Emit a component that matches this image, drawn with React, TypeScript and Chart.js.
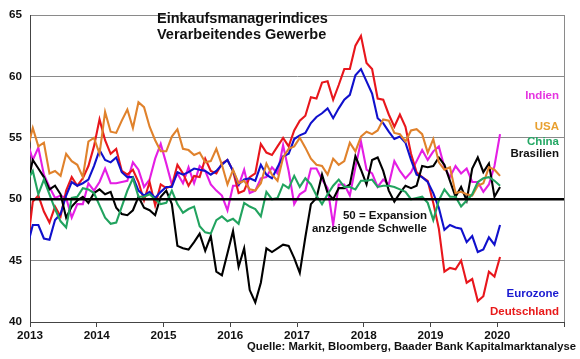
import React, { useEffect, useRef } from 'react';
import { Chart, registerables } from 'chart.js';

Chart.register(...registerables);

// Monthly PMI values, first point = Dec 2012, last point = Jan 2020
const yearTicks = [2013, 2014, 2015, 2016, 2017, 2018, 2019, 2020, 2021];

const china = [51.5,
  52.3, 50.4, 51.6, 50.4, 49.2, 48.2, 47.7, 50.1, 50.2, 50.9, 50.8, 50.5,
  49.5, 48.5, 48.0, 48.1, 49.4, 50.7, 51.7, 50.2, 50.2, 50.4, 50.0, 49.6,
  49.7, 50.7, 49.6, 48.9, 49.2, 49.4, 47.8, 47.3, 47.2, 48.3, 48.6, 48.2,
  48.4, 48.0, 49.7, 49.4, 49.2, 48.6, 50.6, 50.0, 50.1, 51.2, 50.9, 51.9,
  51.0, 51.7, 51.2, 50.3, 49.6, 50.4, 51.1, 51.6, 51.0, 51.0, 50.8, 51.5,
  51.5, 51.6, 51.0, 51.1, 51.1, 51.0, 50.8, 50.6, 50.0, 50.1, 50.2, 49.7,
  48.3, 49.9, 50.8, 50.2, 50.2, 49.4, 49.9, 50.4, 51.4, 51.7, 51.8, 51.5,
  51.1];

const usa = [54.0,
  55.8, 54.3, 54.6, 52.1, 52.3, 51.9, 53.7, 53.1, 52.8, 51.8, 54.7, 55.0,
  53.7, 57.1, 55.5, 55.4, 56.4, 57.3, 55.8, 57.9, 57.5, 55.9, 54.8, 53.9,
  53.9, 55.1, 55.7, 54.1, 54.0, 53.6, 53.8, 53.0, 53.1, 54.1, 52.8, 51.2,
  52.4, 51.3, 51.5, 50.8, 50.7, 51.3, 52.9, 52.0, 51.5, 53.4, 54.1, 54.3,
  55.0, 54.2, 53.3, 52.8, 52.7, 52.0, 53.3, 52.8, 53.1, 54.6, 53.9, 55.1,
  55.5, 55.3, 55.6, 56.5, 56.4, 55.4, 55.3, 54.7, 55.6, 55.7, 55.3, 53.8,
  54.9, 53.0, 52.4, 52.6, 50.5, 50.6, 50.4, 50.3, 51.1, 51.3, 52.6, 52.4,
  51.9];

const brasilien = [51.1,
  53.2, 52.5, 51.8, 50.8, 51.1, 50.4, 48.5, 49.4, 49.9, 50.2, 49.7, 50.5,
  50.8, 50.4, 50.6, 49.3, 48.8, 48.7, 49.1, 50.2, 49.3, 49.1, 48.7, 50.2,
  50.7, 49.6, 46.2, 46.0, 45.9, 46.5, 47.2, 45.8, 47.0, 44.1, 43.8, 45.6,
  47.4, 44.5, 46.0, 42.6, 41.6, 43.2, 46.0, 45.7, 46.0, 46.3, 46.2, 45.2,
  44.0, 46.9, 49.6, 50.1, 52.0, 50.5, 50.0, 50.9, 50.9, 51.2, 53.5, 52.4,
  51.2, 53.2, 53.4, 52.3, 50.7, 49.8, 50.5, 51.1, 50.9, 51.1, 52.7, 52.6,
  52.7, 53.4, 52.8, 51.5, 50.2, 51.0, 49.9, 52.5, 53.4, 52.2, 52.9, 50.2,
  51.0];

const eurozone = [46.1,
  47.9, 47.9, 46.8, 46.7, 48.3, 48.8, 50.3, 51.4, 51.1, 51.3, 51.6, 52.7,
  54.0, 53.2, 53.0, 53.4, 52.2, 51.8, 51.8, 50.7, 50.3, 50.6, 50.1, 50.6,
  51.0, 51.0, 52.2, 52.0, 52.2, 52.5, 52.4, 52.3, 52.0, 52.3, 52.8, 53.2,
  52.3, 51.2, 51.6, 51.7, 51.5, 52.8, 52.0, 51.7, 52.6, 53.5, 53.7, 54.9,
  55.2, 55.4, 56.2, 56.7, 57.0, 57.4, 56.6, 57.4, 58.1, 58.5, 60.1, 60.6,
  59.6, 58.6, 56.6, 56.2, 55.5, 54.9, 55.1, 54.6, 53.2, 52.0, 51.8, 51.4,
  50.5, 49.3, 47.5, 47.9, 47.7, 47.6, 46.5, 47.0, 45.7, 45.9, 46.9, 46.3,
  47.9];

const deutschland = [46.0,
  49.8, 50.3, 49.0, 48.1, 49.4, 48.6, 50.7, 51.8, 51.1, 51.7, 52.7, 54.3,
  56.5, 54.8, 53.7, 54.1, 52.3, 52.0, 52.4, 51.4, 49.9, 51.4, 49.5, 51.2,
  50.9, 51.1, 52.8, 52.1, 51.1, 51.9, 51.8, 53.3, 52.3, 52.1, 52.9, 53.2,
  52.3, 50.5, 50.7, 51.8, 52.1, 54.5, 53.8, 53.6, 54.3, 55.0, 54.3, 55.6,
  56.4, 56.8, 58.3, 58.2, 59.5, 59.6, 58.1, 59.3, 60.6, 60.6, 62.5, 63.3,
  61.1, 60.6, 58.2, 58.1, 56.9, 55.9, 56.9, 55.9, 53.7, 52.2, 51.8, 51.5,
  49.7, 47.6, 44.1, 44.4, 44.3, 45.0, 43.2, 43.5, 41.7, 42.1, 44.1, 43.7,
  45.3];

const indien = [54.7,
  53.2, 54.2, 52.0, 51.0, 50.1, 50.3, 50.1, 48.5, 49.6, 49.6, 51.3, 50.7,
  51.4, 52.5, 51.3, 51.3, 51.4, 51.5, 53.0, 52.4, 51.0, 51.6, 53.3, 54.5,
  52.9, 51.2, 52.1, 51.3, 52.6, 51.3, 52.7, 52.3, 51.2, 50.7, 50.3, 49.1,
  51.1, 51.1, 52.4, 50.5, 50.7, 51.7, 51.8, 52.6, 52.1, 54.4, 52.3, 49.6,
  50.4, 50.7, 52.5, 52.5, 51.6, 50.9, 47.9, 51.2, 51.2, 50.3, 52.6, 54.7,
  52.4, 52.1, 51.0, 51.6, 51.2, 53.1, 52.3, 51.7, 52.2, 53.1, 54.0, 53.2,
  53.9, 54.3, 52.6, 51.8, 52.7, 52.1, 52.5, 51.4, 51.4, 50.6, 51.2, 52.7,
  55.3];

const seriesNames = ['China', 'USA', 'Brasilien', 'Eurozone', 'Deutschland', 'Indien'];
const seriesColors = ['#22a35f', '#e0822c', '#000000', '#1010cc', '#e8161c', '#e41ee4'];
const seriesValues = [china, usa, brasilien, eurozone, deutschland, indien];

// x position of month i (i = 0 is Dec 2012), placed mid-month
const monthPos = (i: number) => 2013 + (i - 1 + 0.5) / 12;

const FONT = '"Liberation Sans", Arial, sans-serif';

const overlay = {
  id: 'overlay',
  afterDatasetsDraw(chart: any) {
    const { ctx, chartArea: a, scales } = chart;
    const y = scales.y;
    ctx.save();
    // Threshold line at 50
    const p50 = y.getPixelForValue(50);
    ctx.strokeStyle = '#000';
    ctx.lineWidth = 2.6;
    ctx.beginPath();
    ctx.moveTo(a.left, p50);
    ctx.lineTo(a.right, p50);
    ctx.stroke();
    // right border
    ctx.strokeStyle = '#8a8a8a';
    ctx.lineWidth = 1;
    ctx.beginPath();
    ctx.moveTo(a.right + 0.5, a.top);
    ctx.lineTo(a.right + 0.5, a.bottom);
    ctx.stroke();

    ctx.textBaseline = 'middle';
    // Title
    ctx.fillStyle = '#111';
    ctx.textAlign = 'left';
    ctx.font = `bold 14.5px ${FONT}`;
    ctx.fillText('Einkaufsmanagerindices', 157, 19);
    ctx.fillText('Verarbeitendes Gewerbe', 157, 35);

    // Series labels
    ctx.font = `bold 11.5px ${FONT}`;
    ctx.textAlign = 'right';
    const labels: [string, string, number][] = [
      ['Indien', '#e535e0', 96],
      ['USA', '#e8a030', 127],
      ['China', '#25a865', 142],
      ['Brasilien', '#111', 154],
      ['Eurozone', '#1a1ad0', 294],
      ['Deutschland', '#e81a1a', 312],
    ];
    for (const [t, c, yy] of labels) {
      ctx.fillStyle = c;
      ctx.fillText(t, 559, yy);
    }
    // Annotation
    ctx.fillStyle = '#111';
    ctx.fillText('50 = Expansion', 427, 216);
    ctx.fillText('anzeigende Schwelle', 427, 229);
    // Source
    ctx.font = `bold 11.3px ${FONT}`;
    ctx.fillText('Quelle: Markit, Bloomberg, Baader Bank Kapitalmarktanalyse', 576, 347);
    ctx.restore();
  },
};

export default function App() {
  const ref = useRef<HTMLCanvasElement>(null);
  useEffect(() => {
    if (!ref.current) return;
    const datasets = seriesValues.map((vals, k) => ({
      label: seriesNames[k],
      data: vals.map((v, i) => ({ x: monthPos(i), y: v })),
      borderColor: seriesColors[k],
      backgroundColor: seriesColors[k],
      borderWidth: 2.1,
      pointRadius: 0,
      tension: 0,
      clip: 0,
    }));
    const chart = new Chart(ref.current, {
      type: 'line',
      data: { datasets },
      options: {
        animation: false,
        responsive: false,
        devicePixelRatio: 1,
        layout: { padding: { top: 10, right: 16, left: 0, bottom: 0 } },
        plugins: { legend: { display: false }, tooltip: { enabled: false } },
        scales: {
          x: {
            type: 'linear',
            min: 2013,
            max: 2021,
            afterBuildTicks: (s: any) => { s.ticks = yearTicks.map((v) => ({ value: v })); },
            afterFit: (s: any) => { s.height = 37; },
            ticks: {
              autoSkip: false,
              maxRotation: 0,
              padding: 2,
              color: '#111',
              font: { family: FONT, size: 11.7, weight: 'bold' },
              callback: (v: any) => (v === 2021 ? '' : String(v)),
            },
            grid: { drawOnChartArea: false, drawTicks: true, tickLength: 5, color: '#444' },
            border: { color: '#444', width: 1 },
          },
          y: {
            min: 40,
            max: 65,
            afterFit: (s: any) => { s.width = 30; },
            ticks: {
              stepSize: 5,
              padding: 8,
              color: '#111',
              font: { family: FONT, size: 11.7, weight: 'bold' },
            },
            grid: {
              drawTicks: false,
              color: (c: any) => (c.tick && (c.tick.value === 40 || c.tick.value === 50) ? 'rgba(0,0,0,0)' : '#8a8a8a'),
            },
            border: { color: '#444', width: 1 },
          },
        },
      },
      plugins: [overlay],
    });
    return () => chart.destroy();
  }, []);
  return (
    <div style={{ position: 'absolute', left: 0, top: 0, width: 580, height: 359, background: '#fff' }}>
      <canvas ref={ref} width={580} height={359} />
    </div>
  );
}
